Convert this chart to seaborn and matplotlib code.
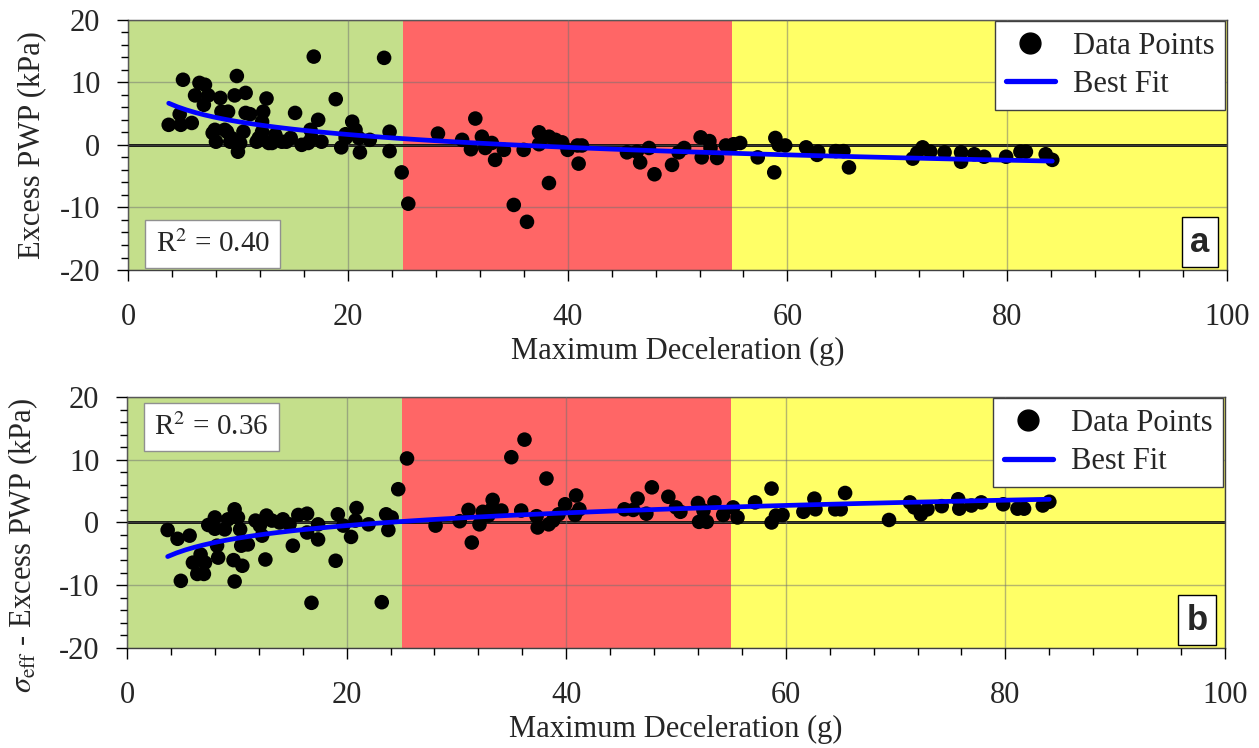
import numpy as np
import pandas as pd
import matplotlib
matplotlib.use("Agg")
import matplotlib.pyplot as plt
from matplotlib.ticker import MultipleLocator
from matplotlib.lines import Line2D
import seaborn as sns

sns.set_style("white")
plt.rcParams['font.family'] = ['Liberation Serif', 'DejaVu Serif']
plt.rcParams['mathtext.fontset'] = 'stix'
plt.rcParams['axes.unicode_minus'] = False

# panel a: excess pore water pressure vs max deceleration
decel_a = [3.7, 4.7, 4.8, 5.0, 5.8, 6.1, 6.5, 7.0, 7.3, 6.9, 7.7, 8.0, 8.4, 8.5, 9.1, 8.8,
           9.4, 9.9, 10.0, 9.7, 10.7, 10.5, 10.7, 11.1, 10.2, 11.9, 12.2, 12.3, 12.6, 12.2,
           12.8, 13.4, 14.0, 14.8, 15.2, 15.8, 16.6, 16.4, 16.9, 17.3, 17.6, 18.9, 19.4,
           19.8, 20.4, 20.7, 21.1, 22.0, 23.3, 23.8, 23.8, 24.9, 25.5, 7.9, 9.0, 9.3, 11.7,
           13.1, 14.4, 16.7, 19.8, 21.0,
           28.2, 30.4, 31.2, 31.6, 32.2, 32.5, 33.1, 33.4, 34.2, 35.1, 36.0, 36.3, 37.4,
           37.4, 37.7, 38.3, 38.3, 38.9, 39.5, 40.0, 40.9, 41.3, 41.0, 45.4, 46.3, 46.6,
           47.4, 47.9, 49.5, 50.1, 50.6, 52.1, 52.2, 52.9, 53.0, 53.6, 54.4, 55.1,
           55.7, 57.3, 58.9, 58.8, 59.2, 59.8, 61.7, 62.8, 62.7, 64.4, 65.1, 65.6, 71.4,
           71.8, 72.3, 73.0, 74.3, 75.8, 75.8, 77.0, 77.9, 79.9, 81.2, 81.7, 83.5, 84.1]
pwp_a = [3.2, 4.9, 3.2, 10.4, 3.5, 7.9, 9.9, 9.6, 7.9, 6.4, 1.9, 0.5, 7.5, 5.3, 5.3, 2.4,
         1.1, 11.0, -1.1, 7.9, 8.3, 2.1, 5.1, 4.9, 0.3, 1.1, 3.7, 5.3, 7.4, 2.1,
         0.3, 1.6, 0.5, 1.1, 5.1, 0.0, 2.4, 0.3, 14.1, 4.0, 0.5, 7.3, -0.4,
         1.1, 3.7, 2.4, -1.2, 0.8, 13.9, 2.1, -1.0, -4.4, -9.4, 2.4, 2.1, 0.5, 0.5,
         0.3, 0.5, 1.1, 1.7, 1.1,
         1.8, 0.8, -0.7, 4.2, 1.3, -0.5, 0.3, -2.4, -0.8, -9.6, -0.8, -12.3, 2.0,
         0.1, 1.1, 1.3, -6.1, 0.8, 0.4, -0.8, -0.1, -0.1, -3.0, -1.2, -1.1, -2.8,
         -0.5, -4.7, -3.2, -1.2, -0.5, 1.2, -2.0, 0.6, -0.5, -2.1, -0.1, 0.1,
         0.3, -2.0, 1.1, -4.4, 0.0, -0.1, -0.4, -1.1, -1.6, -1.0, -1.0, -3.6, -2.2,
         -1.3, -0.4, -1.1, -1.2, -1.2, -2.7, -1.5, -1.9, -1.9, -1.1, -1.1, -1.5, -2.4]

# panel b: effective stress minus excess PWP
decel_b = [3.7, 4.6, 5.7, 4.9, 6.0, 6.7, 7.1, 6.4, 7.0, 7.4, 8.0, 8.0, 8.3, 8.2, 8.9, 9.2,
           9.8, 10.1, 9.7, 9.8, 10.3, 10.4, 10.5, 11.0, 11.7, 12.1, 12.3, 12.6, 12.7, 13.2,
           13.9, 14.2, 14.8, 15.1, 15.6, 16.4, 16.4, 16.8, 17.4, 17.4, 19.0, 19.2, 19.7,
           20.4, 20.9, 20.8, 22.0, 23.2, 23.6, 24.1, 23.8, 24.7, 25.5,
           28.1, 30.3, 31.1, 31.4, 32.1, 32.4, 32.9, 33.3, 33.2, 34.1, 35.0, 35.9, 36.2,
           37.3, 37.4, 38.2, 38.4, 38.8, 39.3, 39.9, 40.9, 41.2, 40.8, 45.3, 46.1, 46.5,
           47.3, 47.8, 49.3, 50.0, 50.4, 52.0, 52.1, 52.8, 52.5, 53.5, 54.3, 55.2,
           55.6, 57.2, 58.7, 58.7, 59.1, 59.7, 61.6, 62.6, 62.7, 64.5, 65.0, 65.4, 69.4,
           71.3, 71.7, 72.3, 72.9, 74.2, 75.7, 75.8, 76.9, 77.8, 79.8, 81.1, 81.7, 83.4, 84.0]
eff_b = [-1.2, -2.6, -2.1, -9.3, -6.4, -5.1, -6.4, -8.2, -8.2, -0.4, 0.8, -1.0, -5.6, -3.7,
         -1.1, 0.5, 2.1, 0.8, -6.0, -9.4, -1.1, -3.7, -6.9, -3.5, 0.3, -0.5, -2.1, -5.9,
         1.1, 0.3, 0.0, 0.5, -0.3, -3.7, 1.2, 1.4, -1.6, -12.8, -2.7, -0.3, -6.1, 1.3,
         -0.5, -2.3, 2.3, 0.3, -0.3, -12.7, 1.3, 0.8, -1.2, 5.3, 10.2,
         -0.5, 0.2, 2.0, -3.2, -0.3, 1.7, 1.1, 3.6, 2.1, 1.9, 10.4, 1.9, 13.2,
         1.0, -0.8, 7.0, -0.3, 0.3, 1.3, 2.9, 4.3, 2.1, 1.2, 2.1, 2.0, 3.8,
         1.4, 5.6, 4.1, 2.4, 1.7, 3.1, 0.1, 0.1, 1.9, 3.2, 1.2, 2.4,
         0.8, 3.2, 5.4, 0.0, 1.1, 1.2, 1.7, 3.8, 2.1, 2.1, 2.1, 4.7, 0.4,
         3.2, 2.4, 1.3, 2.1, 2.6, 3.7, 2.2, 2.7, 3.2, 2.9, 2.2, 2.2, 2.7, 3.3]

zone_edges = [0, 25, 55, 100]
zone_colors = ["#c4df8b", "#ff6666", "#ffff66"]
r2_text = ["R$^{2}$ = 0.40", "R$^{2}$ = 0.36"]
ylabels = ["Excess PWP (kPa)", r"$\sigma_{\mathrm{eff}}$ - Excess PWP (kPa)"]
letters = ["a", "b"]

fig = plt.figure(figsize=(12.59, 7.48), dpi=100)
ax_a = fig.add_axes([0.1017, 0.639, 0.8729, 0.3347])
ax_b = fig.add_axes([0.1009, 0.1337, 0.8721, 0.3356])

panels = [
    (ax_a, pd.DataFrame({"x": decel_a, "y": pwp_a}), (0.025, 0.05), "bottom", (-0.074, 0.5)),
    (ax_b, pd.DataFrame({"x": decel_b, "y": eff_b}), (0.025, 0.935), "top", (-0.079, 0.41)),
]

for i, (ax, df, r2_pos, va, lab_xy) in enumerate(panels):
    for lo, hi, c in zip(zone_edges[:-1], zone_edges[1:], zone_colors):
        ax.axvspan(lo, hi, color=c, zorder=0, lw=0)
    ax.axhline(0, color="black", lw=2, zorder=1.5)
    sns.scatterplot(data=df, x="x", y="y", ax=ax, color="black", s=110,
                    edgecolor="none", zorder=3)
    sns.regplot(data=df, x="x", y="y", ax=ax, scatter=False, logx=True, ci=None,
                truncate=True, line_kws={"color": "#0000ff", "lw": 3.4, "zorder": 4})

    ax.set_xlim(0, 100)
    ax.set_ylim(-20, 20)
    ax.xaxis.set_major_locator(MultipleLocator(20))
    ax.xaxis.set_minor_locator(MultipleLocator(4))
    ax.yaxis.set_major_locator(MultipleLocator(10))
    ax.yaxis.set_minor_locator(MultipleLocator(2))
    ax.tick_params(which="major", direction="out", length=8, width=1, color="black",
                   labelsize=22, bottom=True, left=True)
    ax.tick_params(axis="x", which="major", pad=16)
    ax.tick_params(axis="y", which="major", pad=12)
    ax.tick_params(which="minor", direction="out", length=5, width=1, color="black",
                   bottom=True, left=True)
    ax.grid(True, which="major", color="#707070", alpha=0.5, lw=1)
    ax.set_axisbelow(False)
    for sp in ax.spines.values():
        sp.set_color("#404040")
        sp.set_linewidth(1)
    ax.set_xlabel("Maximum Deceleration (g)", fontsize=22, labelpad=3)
    ax.set_ylabel(ylabels[i], fontsize=22)
    ax.yaxis.set_label_coords(*lab_xy)

    ax.text(r2_pos[0], r2_pos[1], r2_text[i], transform=ax.transAxes, fontsize=21,
            va=va, ha="left", zorder=6,
            bbox=dict(boxstyle="square,pad=0.35", fc="white", ec="#909090", lw=1))
    ax.text(0.984, 0.045, letters[i], transform=ax.transAxes, fontsize=25,
            family="Liberation Sans", weight="bold", va="bottom", ha="right", zorder=6,
            bbox=dict(boxstyle="square,pad=0.25", fc="white", ec="black", lw=1))

    handles = [Line2D([], [], marker="o", color="black", ls="none", markersize=15),
               Line2D([], [], color="#0000ff", lw=3.8)]
    leg = ax.legend(handles, ["Data Points", "Best Fit"], loc="upper right",
                    fontsize=22, frameon=True, fancybox=False, framealpha=1,
                    edgecolor="#404040", borderaxespad=0.05, handlelength=1.6,
                    handletextpad=0.6, borderpad=0.35, labelspacing=0.3)
    leg.get_frame().set_linewidth(1)
    leg.set_zorder(7)

fig.savefig("out.png", dpi=100)
